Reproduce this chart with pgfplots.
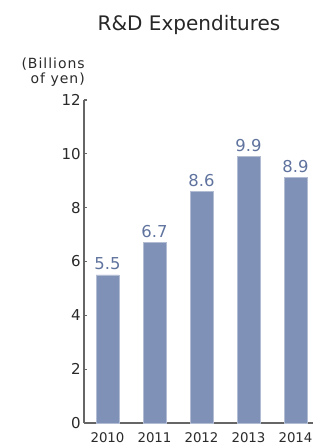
\documentclass[border=0pt]{standalone}
\usepackage{fontspec}
\setmainfont{DejaVu Sans}
\usepackage{pgfplots}
\usepackage{pgfplotstable}
\pgfplotsset{compat=1.18}
\definecolor{barfill}{HTML}{7F91B7}
\definecolor{vallab}{HTML}{5F739E}
\definecolor{axgray}{HTML}{666666}
\definecolor{txt}{HTML}{2A2A2A}
\pgfplotstableread{
x y lab
0 5.5 5.5
1 6.7 6.7
2 8.6 8.6
3 9.9 9.9
4 9.13 8.9
}\rdtable
\begin{document}
\begin{tikzpicture}
\begin{axis}[
  scale only axis,
  width=176.25pt, height=242.25pt,
  xmin=-0.5, xmax=4.5, ymin=0, ymax=12,
  axis x line=bottom, axis y line=left,
  axis line style={axgray, line width=1.1pt, -},
  xtick={0,1,2,3,4},
  xticklabels={2010,2011,2012,2013,2014},
  x tick label style={font=\fontsize{10pt}{11pt}\selectfont, text=txt, yshift=-3.5pt},
  major x tick style={draw=none},
  extra x ticks={0.5,1.5,2.5,3.5},
  extra x tick labels={},
  extra x tick style={tick align=inside, major tick length=6pt, tick style={axgray, line width=0.8pt}},
  ytick={0,2,4,6,8,10,12},
  y tick label style={font=\fontsize{11.25pt}{13pt}\selectfont, text=txt, xshift=1pt},
  ytick style={axgray, line width=0.8pt},
  tick align=inside, major tick length=2.5pt,
  /pgf/number format/assume math mode=true,
  clip=false,
]
\addplot[ybar, bar width=0.48, fill=barfill, draw=barfill!60!white, line width=0.3pt,
  nodes near coords, point meta=explicit symbolic,
  every node near coord/.append style={font=\fontsize{12.3pt}{14pt}\selectfont, text=vallab, anchor=south, inner sep=0pt, yshift=3.5pt}]
  table[x=x, y=y, meta=lab] {\rdtable};
\end{axis}
\node[font=\fontsize{15pt}{18pt}\selectfont, text=black!85] at (78.75pt,298.5pt) {R\&D Expenditures};
\node[font=\fontsize{10.5pt}{11.25pt}\selectfont\addfontfeature{LetterSpace=7}, text=txt, align=right, anchor=east, inner sep=0pt] at (0.75pt,263pt) {(Billions\\of yen)};
\pgfresetboundingbox
\useasboundingbox (-63pt,-16.5pt) rectangle (171.75pt,317.25pt);
\end{tikzpicture}
\end{document}
